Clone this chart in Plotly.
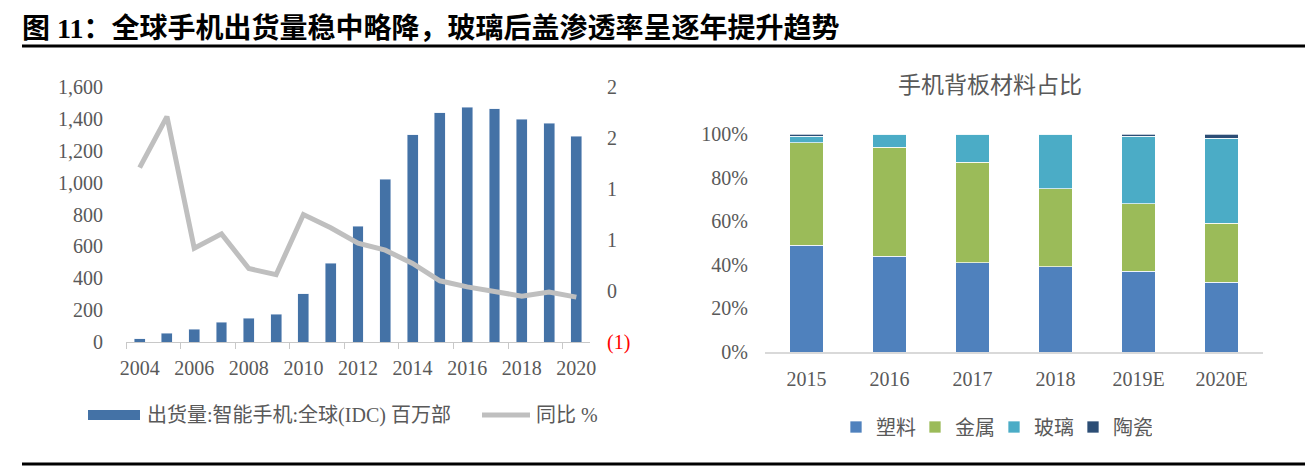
import plotly.graph_objects as go

# The page body adds an 8px offset, so the figure is drawn 8px smaller and
# all reference pixel positions are shifted by that offset.
OFF = 8
W, H = 1315 - OFF, 469 - OFF

# ---------------- data ----------------
years = list(range(2004, 2021))
shipments = [20, 55, 80, 125, 150, 173, 303, 494, 725, 1020, 1300, 1437, 1473, 1465, 1398, 1372, 1292]
yoy = [1.21, 1.71, 0.42, 0.56, 0.22, 0.16, 0.75, 0.62, 0.47, 0.40, 0.27, 0.10, 0.04, 0.00, -0.05, -0.01, -0.06]

y2_tickvals = [-0.5, 0, 0.5, 1.0, 1.5, 2.0]
y2_ticktext = ['<span style="color:#FF0000">(1)</span>', "0", "1", "1", "2", "2"]

cats = ["2015", "2016", "2017", "2018", "2019E", "2020E"]
plastic = [0.49, 0.44, 0.41, 0.39, 0.37, 0.32]
metal = [0.47, 0.50, 0.46, 0.36, 0.31, 0.27]
glass = [0.03, 0.06, 0.13, 0.25, 0.31, 0.39]
ceramic = [0.01, 0.00, 0.00, 0.00, 0.01, 0.02]

title = "图 11：全球手机出货量稳中略降，玻璃后盖渗透率呈逐年提升趋势"
right_title = "手机背板材料占比"
bar_name = "出货量:智能手机:全球(IDC) 百万部"
line_name = "同比 %"

FONT = "Liberation Serif, Noto Sans CJK SC, serif"
GRAY = "#595959"


def px(x):
    return (x - OFF) / W


def py(y):
    return 1 - (y - OFF) / H


fig = go.Figure()

# ---------------- left chart ----------------
fig.add_trace(go.Bar(x=years, y=shipments, name=bar_name, marker_color="#4472A6",
                     width=0.4, xaxis="x", yaxis="y", showlegend=False))
fig.add_trace(go.Scatter(x=years, y=yoy, name=line_name, mode="lines",
                         line=dict(color="#BFBFBF", width=5), xaxis="x", yaxis="y2",
                         showlegend=False))

# ---------------- right chart ----------------
seg_line = dict(color="rgba(255,255,255,0.7)", width=1)
for name, vals, col in [("塑料", plastic, "#4F81BD"), ("金属", metal, "#9BBB59"),
                        ("玻璃", glass, "#4BACC6"), ("陶瓷", ceramic, "#2C4D75")]:
    fig.add_trace(go.Bar(x=cats, y=vals, name=name, marker=dict(color=col, line=seg_line),
                         width=0.4, xaxis="x2", yaxis="y3", legend="legend2"))

fig.update_layout(
    width=W, height=H,
    margin=dict(l=0, r=0, t=0, b=0, autoexpand=False),
    paper_bgcolor="white", plot_bgcolor="white",
    barmode="stack",
    font=dict(family=FONT, size=20, color=GRAY),
    xaxis=dict(domain=[px(126), px(590)], range=[2003.5, 2020.5], automargin=False,
               tickmode="array", tickvals=list(range(2004, 2021, 2)),
               ticks="", showgrid=False, zeroline=False,
               showline=True, linecolor="#C8C8C8", linewidth=1,
               minor=dict(tickmode="linear", tick0=2003.5, dtick=2, ticks="outside",
                          ticklen=6, tickcolor="#C8C8C8", tickwidth=1, showgrid=False),
               tickfont=dict(size=20, color=GRAY), ticklabelstandoff=8),
    yaxis=dict(domain=[py(342), py(87)], range=[0, 1600], dtick=200, tickformat=",",
               automargin=False,
               showgrid=False, zeroline=False, showline=False, ticks="",
               tickfont=dict(size=20, color=GRAY), ticklabelstandoff=22, anchor="x"),
    yaxis2=dict(overlaying="y", side="right", range=[-0.5, 2.0], tickmode="array",
                automargin=False,
                tickvals=y2_tickvals, ticktext=y2_ticktext, showgrid=False, zeroline=False,
                showline=False, ticks="", anchor="x",
                tickfont=dict(size=20, color=GRAY), ticklabelstandoff=16),
    xaxis2=dict(domain=[px(765), px(1263)], anchor="y3", type="category",
                automargin=False,
                showgrid=False, zeroline=False, showline=True, linecolor="#D9D9D9",
                linewidth=2, ticks="", tickfont=dict(size=20, color=GRAY),
                ticklabelstandoff=8),
    yaxis3=dict(domain=[py(352), py(134)], anchor="x2", range=[0, 1], dtick=0.2,
                automargin=False,
                tickformat=".0%", showgrid=False, zeroline=False, showline=False,
                ticks="", tickfont=dict(size=20, color=GRAY), ticklabelstandoff=16),
    bargap=0.6,
    legend2=dict(orientation="h", x=px(836), y=py(427), xanchor="left", yanchor="middle",
                 font=dict(size=20, color=GRAY), bgcolor="rgba(0,0,0,0)",
                 itemwidth=30, entrywidth=34, traceorder="normal"),
    showlegend=True,
)

# ---------------- decorations: title, rules, left legend ----------------
shapes = [
    dict(type="line", xref="paper", yref="paper", x0=px(22), x1=px(1305), y0=py(46), y1=py(46),
         line=dict(color="black", width=3)),
    dict(type="line", xref="paper", yref="paper", x0=px(22), x1=px(1305), y0=py(464), y1=py(464),
         line=dict(color="black", width=3)),
    dict(type="rect", xref="paper", yref="paper", x0=px(88), x1=px(140), y0=py(420), y1=py(410),
         fillcolor="#4472A6", line=dict(width=0)),
    dict(type="line", xref="paper", yref="paper", x0=px(482), x1=px(530), y0=py(415), y1=py(415),
         line=dict(color="#BFBFBF", width=5)),
]
annotations = [
    dict(text="<b>" + title + "</b>", xref="paper", yref="paper", x=px(20), y=py(28),
         xanchor="left", yanchor="middle", showarrow=False,
         font=dict(family=FONT, size=28, color="black")),
    dict(text=right_title, xref="paper", yref="paper", x=px(990), y=py(85),
         xanchor="center", yanchor="middle", showarrow=False,
         font=dict(family=FONT, size=23, color=GRAY)),
    dict(text=bar_name, xref="paper", yref="paper", x=px(145), y=py(415),
         xanchor="left", yanchor="middle", showarrow=False,
         font=dict(family=FONT, size=20, color=GRAY)),
    dict(text=line_name, xref="paper", yref="paper", x=px(534), y=py(415),
         xanchor="left", yanchor="middle", showarrow=False,
         font=dict(family=FONT, size=20, color=GRAY)),
]
fig.update_layout(shapes=shapes, annotations=annotations)

fig.write_html("out.html")
